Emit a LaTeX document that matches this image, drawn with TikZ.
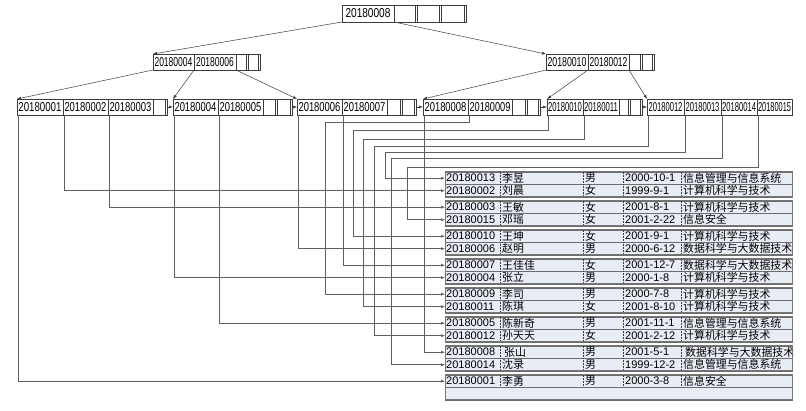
\documentclass[tikz,border=0pt]{standalone}
\usepackage{graphicx}
\usepackage{fontspec}
\setmainfont{Liberation Sans}
\newfontfamily\cjk{Noto Sans CJK SC}
\usetikzlibrary{arrows.meta}

\definecolor{rowfill}{RGB}{232,236,245}
\definecolor{boxline}{RGB}{60,60,60}
\definecolor{linkline}{RGB}{95,95,95}

% key text squeezed into its cell
\newcommand{\kt}[2]{\resizebox{#1pt}{9pt}{#2}}

\tikzset{
  keycell/.style={draw=boxline, line width=0.6pt, fill=white, anchor=north west,
    inner sep=0pt, outer sep=0pt, minimum height=16},
  blankcell/.style={keycell, path picture={\draw[boxline, line width=0.4pt]
    ([xshift=-2pt]path picture bounding box.north east) --
    ([xshift=-2pt]path picture bounding box.south east);}},
  ptr/.style={draw=boxline, line width=0.5pt, -{Latex[length=4pt,width=3pt]}},
  link/.style={draw=linkline, line width=0.45pt, -{Latex[length=4pt,width=3pt]}},
  rowbox/.style={fill=rowfill, draw=boxline!75, line width=0.45pt},
  groupbox/.style={draw=boxline!70, line width=0.7pt},
  coldiv/.style={draw=boxline, line width=0.5pt, densely dotted},
  idcell/.style={anchor=north west, inner xsep=1pt, inner ysep=0pt, text width=53pt,
    align=left, minimum height=12.5, font=\fontsize{11}{12}\selectfont},
  txtcell/.style={anchor=west, inner xsep=2pt, inner ysep=0pt,
    font=\fontsize{10.9}{12}\selectfont\cjk},
  datecell/.style={anchor=west, inner xsep=2pt, inner ysep=0pt,
    font=\fontsize{11}{12}\selectfont},
}

\begin{document}
\begin{tikzpicture}[x=1pt,y=-1pt]
\useasboundingbox (0,0) rectangle (806,411);

% root
\node[keycell, minimum width=52, minimum height=17] (n0a) at (342,5) {\kt{45}{20180008}};
\foreach \x/\w [count=\n] in {394/23,417/24,441/25}
  \node[blankcell, minimum width=\w, minimum height=17] (top\n) at (\x,5) {};

% second level
\node[keycell, minimum width=41] (n1a) at (153,54) {\kt{38}{20180004}};
\node[keycell, minimum width=42] (n1b) at (194,54) {\kt{38}{20180006}};
\node[keycell, minimum width=42] (n2a) at (546,54) {\kt{39}{20180010}};
\node[keycell, minimum width=41] (n2b) at (588,54) {\kt{38}{20180012}};
\foreach \x/\w [count=\n] in {236/12,248/12,629/13,642/12}
  \node[blankcell, minimum width=\w] (mid\n) at (\x,54) {};

% leaves
\foreach \id/\x/\w/\t in {20180001/17/46/43, 20180002/63/45/42, 20180003/108/45/42,
    20180004/173/45/42, 20180005/218/45/42, 20180006/297/45/42, 20180007/342/45/42,
    20180008/423/45/42, 20180009/468/44/41, 20180010/547/36/34, 20180011/583/36/34,
    20180012/647/37/34, 20180013/684/37/34, 20180014/721/36/34, 20180015/757/35/33}
  \node[keycell, minimum width=\w] (key\id) at (\x,99) {\kt{\t}{\id}};
\foreach \x/\w [count=\n] in {153/14,263/14,277/15,387/15,402/14,512/15,527/13,619/11,630/12}
  \node[blankcell, minimum width=\w] (blank\n) at (\x,99) {};

% tree pointers
\draw[ptr] (n0a.south west) -- (n1a.north west);
\draw[ptr] (n0a.south east) -- (n2a.north west);
\draw[ptr] (n1a.south west) -- (key20180001.north west);
\draw[ptr] (n1a.south east) -- (key20180004.north west);
\draw[ptr] (n1b.south east) -- (key20180006.north west);
\draw[ptr] (n2a.south west) -- (key20180008.north west);
\draw[ptr] (n2a.south east) -- (key20180010.north west);
\draw[ptr] (n2b.south east) -- (key20180012.north west);

% leaf chain
\foreach \a/\b in {blank1/key20180004, blank3/key20180006, blank5/key20180008,
    blank7/key20180010, blank9/key20180012}
  \draw[ptr] (\a.east) -- (\b.west);

% records
\foreach \i/\id/\nm/\sx/\dt/\mj in {
    1/20180013/李昱/男/2000-10-1/信息管理与信息系统,
    2/20180002/刘晨/女/1999-9-1/计算机科学与技术,
    3/20180003/王敏/女/2001-8-1/计算机科学与技术,
    4/20180015/邓瑶/女/2001-2-22/信息安全,
    5/20180010/王坤/女/2001-9-1/计算机科学与技术,
    6/20180006/赵明/男/2000-6-12/数据科学与大数据技术,
    7/20180007/王佳佳/女/2001-12-7/数据科学与大数据技术,
    8/20180004/张立/男/2000-1-8/计算机科学与技术,
    9/20180009/李司/男/2000-7-8/计算机科学与技术,
    10/20180011/陈琪/女/2001-8-10/计算机科学与技术,
    11/20180005/陈新奇/男/2001-11-1/信息管理与信息系统,
    12/20180012/孙天天/女/2001-2-12/计算机科学与技术,
    13/20180008/\hspace{2pt}张山/男/2001-5-1/\hspace{2pt}数据科学与大数据技术,
    14/20180014/沈录/男/1999-12-2/信息管理与信息系统,
    15/20180001/李勇/男/2000-3-8/信息安全}{
  \pgfmathsetmacro\ty{171.75+29*int((\i-1)/2)+12.5*mod(\i-1,2)}
  \pgfmathsetmacro\tc{\ty+6.25}
  \draw[rowbox] (445,\ty) rectangle ++(347,12.5);
  \foreach \cx in {500,583,623,681}
    \draw[coldiv] (\cx,\ty) -- ++(0,12.5);
  \node[idcell] (row\id) at (445,\ty) {\id};
  \node[txtcell] (name\id) at (500,\tc) {\nm};
  \node[txtcell] (sex\id) at (583,\tc) {\sx};
  \node[datecell] (date\id) at (623,\tc) {\dt};
  \node[txtcell] (major\id) at (681,\tc) {\mj};
}
\draw[rowbox] (445,387.25) rectangle ++(347,12.5);
\foreach \g in {0,...,7}
  \draw[groupbox] (445,{171.75+29*\g}) rectangle ++(347,25);

% leaf keys to records
\foreach \id in {20180001,20180002,20180003,20180004,20180005,20180006,20180007,20180008}
  \draw[link] ([xshift=1pt]key\id.south west) |- (row\id.west);
\foreach \id/\tx/\ty in {20180009/325/122, 20180010/353/130, 20180011/363/139,
    20180012/374/146, 20180013/385/152, 20180014/391/158, 20180015/407/167}
  \draw[link] ([xshift=1pt]key\id.south west) |- (\tx,\ty) |- (row\id.west);
\end{tikzpicture}
\end{document}
